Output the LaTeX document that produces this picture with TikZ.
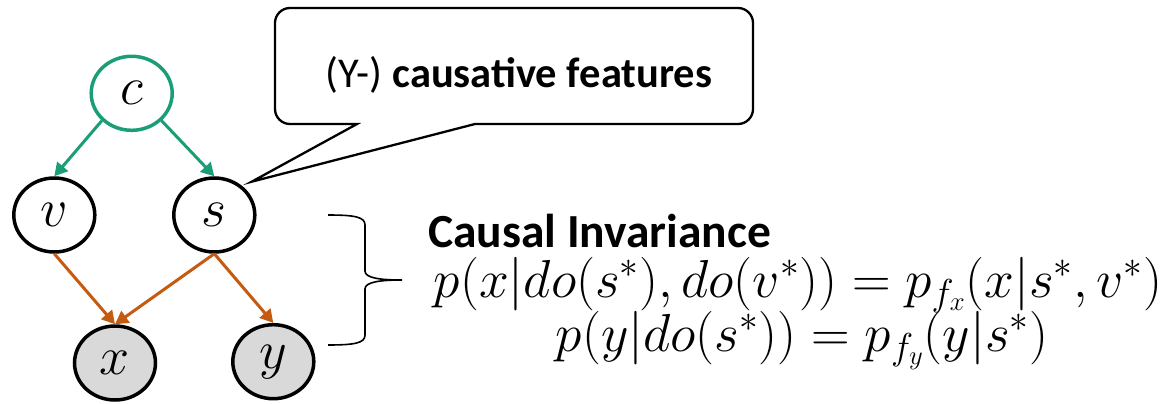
\RequirePackage{fix-cm}
\documentclass[tikz,border=0pt]{standalone}
\usepackage{fontspec}
\setmainfont{Carlito}
\usetikzlibrary{arrows.meta,shapes.geometric}
\definecolor{cgreen}{RGB}{27,158,119}
\definecolor{corange}{RGB}{197,90,17}
\definecolor{cgray}{RGB}{217,217,217}
\begin{document}
\begin{tikzpicture}[x=1pt,y=-1pt,
  var/.style={ellipse, draw, line width=3.5pt, minimum width=81pt,
    minimum height=74pt, inner sep=0pt, font=\fontsize{54}{58}\selectfont},
  obs/.style={var, fill=cgray},
  cause/.style={line width=3pt, draw=cgreen, -{Triangle[length=13pt,width=14pt]}},
  effect/.style={line width=3pt, draw=corange, -{Triangle[length=13pt,width=14pt]}},
  eqn/.style={anchor=base, inner sep=0pt, font=\fontsize{53.5}{58}\selectfont}]
\useasboundingbox (0,0) rectangle (1172,404);

% causal graph
\node[var, draw=cgreen] (c) at (131.7,93.3) {$c$};
\node[var] (v) at (54.3,215) {$v$};
\node[var] (s) at (214.3,215) {$s$};
\node[obs] (x) at (115,363) {$x$};
\node[obs] (y) at (273.3,361.7) {$y$};

\draw[cause] (c.south west) -- (v.north);
\draw[cause] (c.south east) -- (s.north);
\draw[effect] (v.south) -- (x.north);
\draw[effect] (s.south) -- (x.north);
\draw[effect] (s.south) -- (y.north);

% speech bubble pointing at s
\coordinate (tip) at (251.7,181.7);
\draw[line width=2.3pt, line join=miter]
  (357,124) -- (290,124) arc[start angle=90, end angle=180, radius=15]
  -- (275,23) arc[start angle=180, end angle=270, radius=15]
  -- (738,8) arc[start angle=270, end angle=360, radius=15]
  -- (753,109) arc[start angle=0, end angle=90, radius=15]
  -- (475,124) -- (tip) -- cycle;
\node[anchor=base, inner sep=0pt, font=\fontsize{42.5}{46}\selectfont] (lbl) at (519,87)
  {(Y-) \textbf{causative features}};

% brace grouping x and y
\draw[line width=1.6pt]
  (328,215) .. controls (355,215) and (365,217) .. (365,225)
  -- (365,271) .. controls (365,278) and (380,280) .. (402,280)
  .. controls (380,280) and (365,282) .. (365,289)
  -- (365,335) .. controls (365,343) and (355,345) .. (328,345);

% invariance statements
\node[anchor=base west, inner sep=0pt, font=\bfseries\fontsize{47.5}{52}\selectfont] (title)
  at (428,247) {Causal Invariance};
\node[eqn] (eq1) at (798,297)
  {$p(x|do(s^*),do(v^*))=p_{f_x}(x|s^*,v^*)$};
\node[eqn] (eq2) at (802,351)
  {$p(y|do(s^*))=p_{f_y}(y|s^*)$};
\end{tikzpicture}
\end{document}
